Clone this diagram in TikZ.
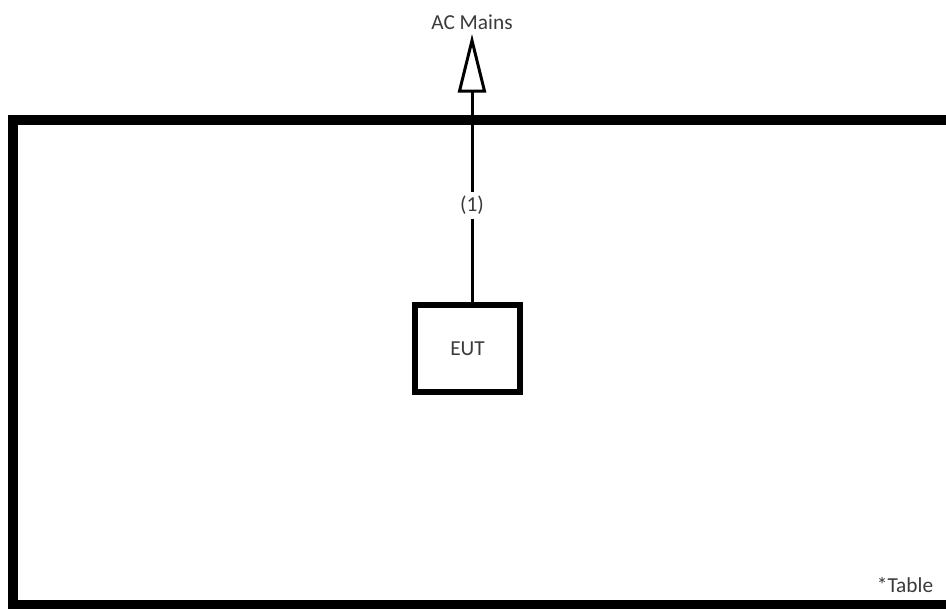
\documentclass[tikz,border=0pt]{standalone}
\usepackage{fontspec}
\setmainfont{Carlito}
\usetikzlibrary{arrows.meta, positioning}
\definecolor{txtGrey}{HTML}{3A3A3A}
\tikzset{
  every picture/.append style = {line width=2.25pt},
  lbl/.style      = {font=\fontsize{16}{19}\selectfont, text=txtGrey, inner sep=1pt},
  tableline/.style = {line width=7pt, black},
  eutbox/.style   = {draw=black, line width=4.5pt, minimum width=78.75pt, minimum height=65.25pt,
                     lbl, inner sep=0pt},
}

\begin{document}
\begin{tikzpicture}[x=0.75pt, y=-0.75pt,
    feed/.style={-{Triangle[open, length=44pt, width=21pt, line width=2.25pt]}, black}]
  \useasboundingbox (0,0) rectangle (946,609);
  \clip (0,0) rectangle (946,609);
  % table
  \draw[tableline] (13,120) rectangle (980,605);
  \node[lbl, anchor=south east] (tbl) at (936,595) {*Table};
  % eut and mains
  \node[eutbox] (eut) at (467.5,348.5) {EUT};
  \node[lbl, anchor=center] (mains) at (472,22) {AC Mains};
  \coordinate (tip) at (472,34);
  \draw[feed] (eut.north -| tip) -- node[pos=0.36, lbl, fill=white, inner sep=3pt] (cable) {(1)} (tip);
\end{tikzpicture}
\end{document}
